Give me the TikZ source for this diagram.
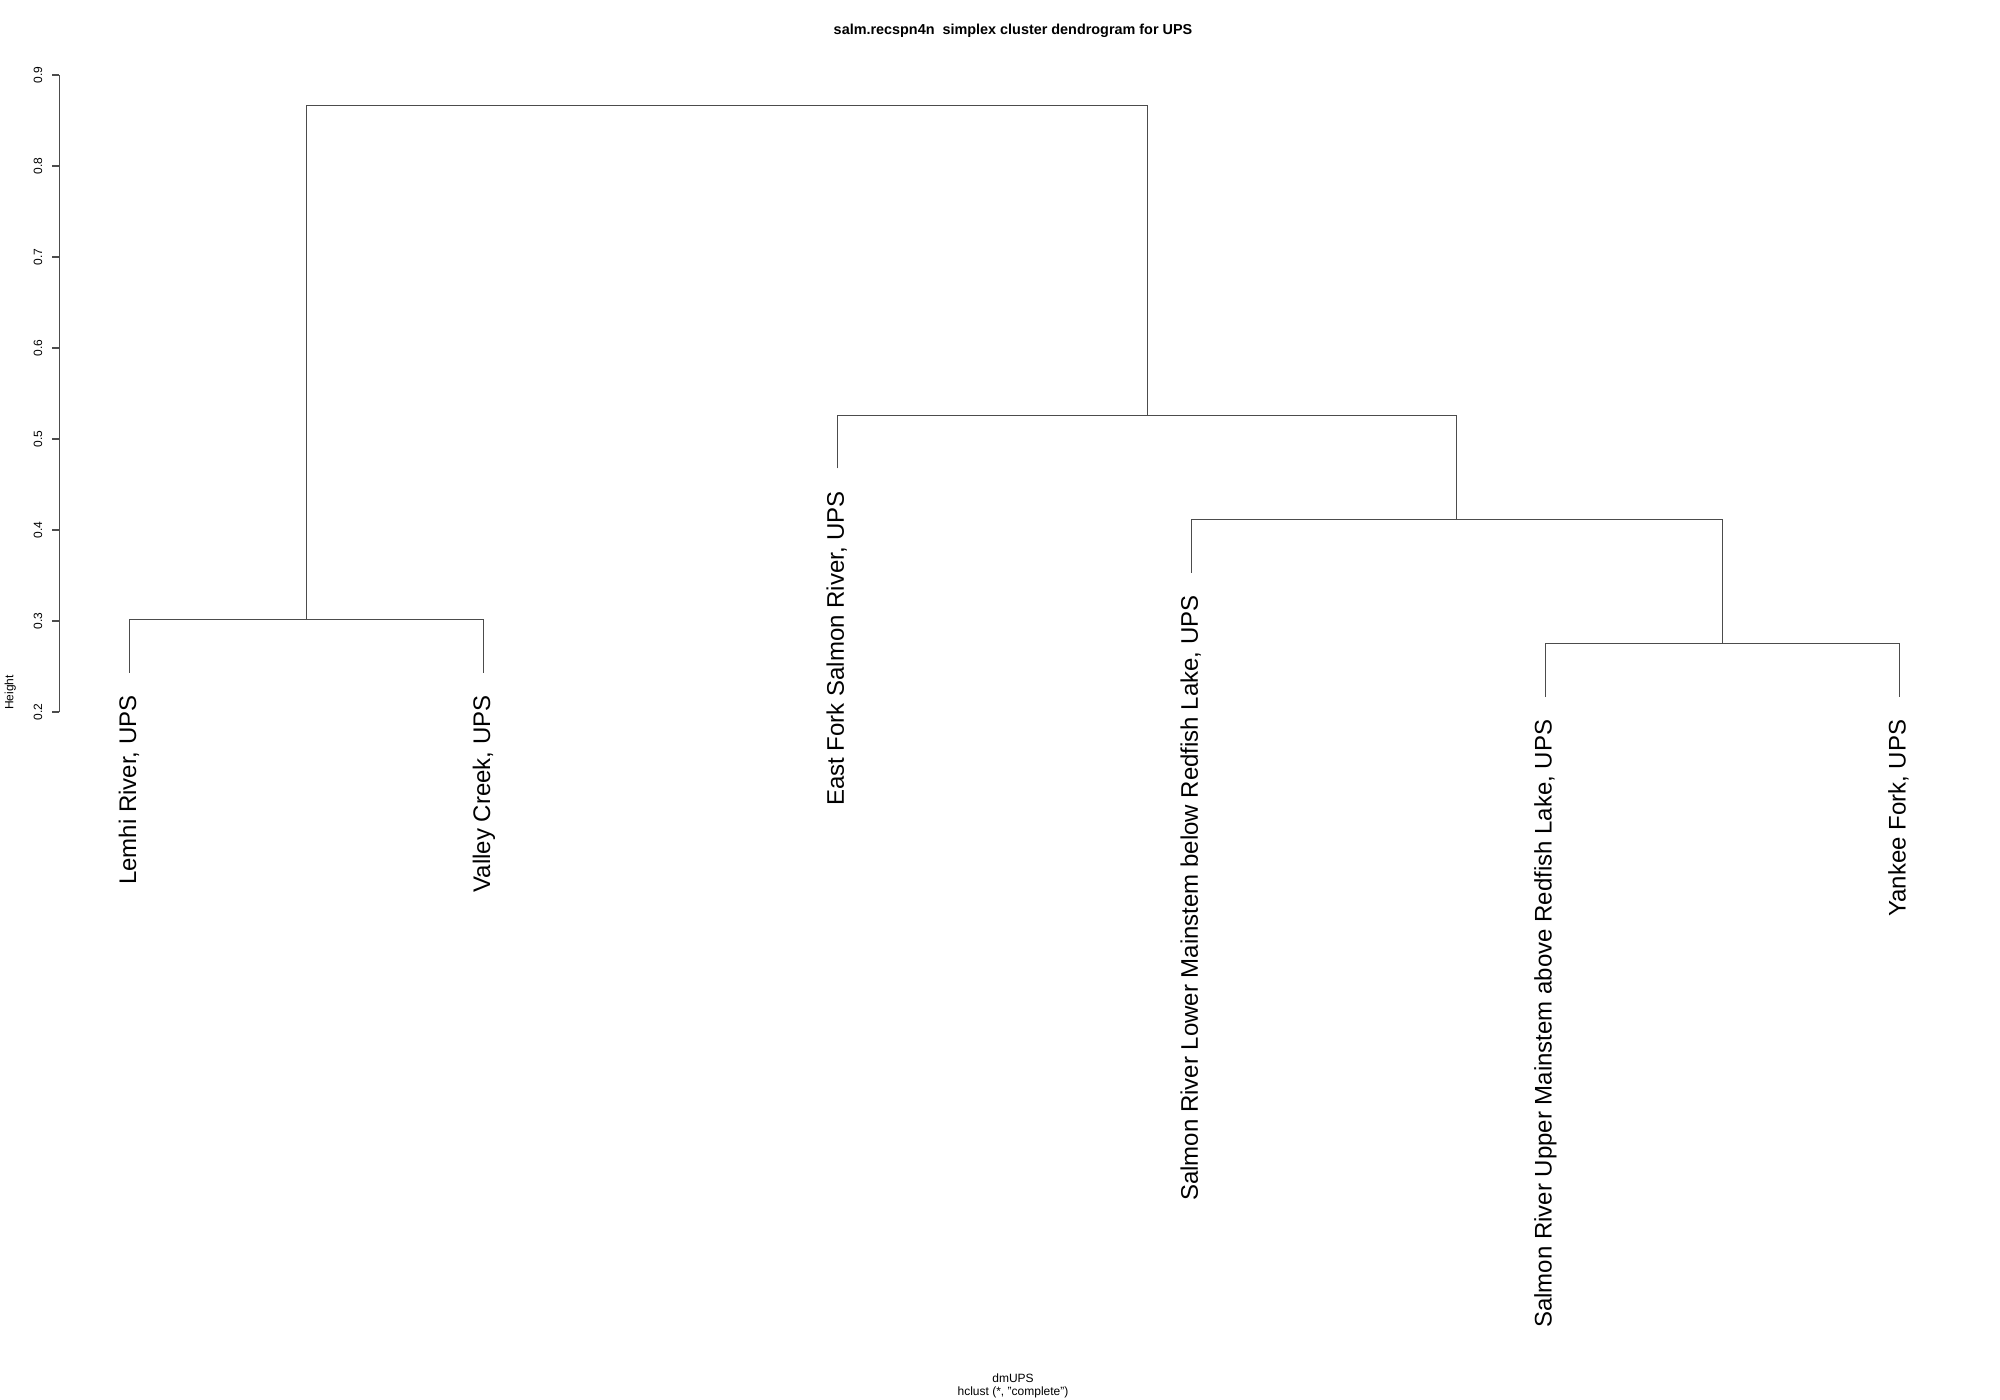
\documentclass[tikz,border=0pt]{standalone}
\usepackage{fontspec}
\setmainfont{Liberation Sans}
\begin{document}
\begin{tikzpicture}[x=1bp,y=-1bp,
  tree/.style={draw=black!70, line width=1.1bp},
  axisline/.style={draw=black!70, line width=1.1bp},
  leaflab/.style={rotate=90, anchor=east, inner sep=0pt,
    font=\fontsize{24bp}{28bp}\selectfont, text height=17.2bp, text depth=0pt},
  ticklab/.style={rotate=90, anchor=center, inner sep=0pt,
    font=\fontsize{12bp}{14bp}\selectfont, text height=8.6bp, text depth=0pt},
  smalltext/.style={inner sep=0pt, anchor=base, font=\fontsize{12bp}{14bp}\selectfont},
  titletext/.style={inner sep=0pt, anchor=base, font=\fontsize{14.4bp}{17bp}\selectfont\bfseries}]
\fill[white] (0,0) rectangle (2000,1400);
\useasboundingbox (0,0) rectangle (2000,1400);

% title and axis captions
\node[titletext] (title) at (1013,34.5) {salm.recspn4n\ \ simplex cluster dendrogram for UPS};
\node[smalltext] (xlab) at (1013,1382) {dmUPS};
\node[smalltext] (sub) at (1013,1395.5) {hclust (*, "complete")};
\node[ticklab] (ylab) at (9,692.5) {Height};

% height axis: 0.2 at y=712, 0.1 per 91 units
\coordinate (ax0) at (59.3,712);
\coordinate (ax1) at (59.3,75);
\draw[axisline] (ax0) -- (ax1);
\foreach \v [count=\i from 0] in {0.2,0.3,0.4,0.5,0.6,0.7,0.8,0.9} {
  \coordinate (tk\i) at (59.3,712-91*\i);
  \draw[axisline] (tk\i) -- ++(-7.5,0);
  \node[ticklab] (tl\i) at (37.8,712-91*\i) {\v};
}

% leaf ends
\coordinate (la) at (129.7,672.6);
\coordinate (lb) at (483.6,672.6);
\coordinate (lc) at (837.5,468.3);
\coordinate (ld) at (1191.4,572.6);
\coordinate (le) at (1545.3,697.0);
\coordinate (lf) at (1899.2,697.0);

% merge points
\coordinate (m1) at (306.65,619.3);
\coordinate (m2) at (1722.25,643.7);
\coordinate (m3) at (1456.8,519.3);
\coordinate (m4) at (1147.15,415.4);
\coordinate (m5) at (726.9,105.7);

% branches
\draw[tree] (la) |- (m1) -| (lb);
\draw[tree] (le) |- (m2) -| (lf);
\draw[tree] (ld) |- (m3) -| (m2);
\draw[tree] (lc) |- (m4) -| (m3);
\draw[tree] (m1) |- (m5) -| (m4);

% leaf labels
\node[leaflab] (na) at (127.5,695.1) {Lemhi River, UPS};
\node[leaflab] (nb) at (481.4,695.1) {Valley Creek, UPS};
\node[leaflab] (nc) at (835.3,490.8) {East Fork Salmon River, UPS};
\node[leaflab] (nd) at (1189.2,595.1) {Salmon River Lower Mainstem below Redfish Lake, UPS};
\node[leaflab] (ne) at (1543.1,719.5) {Salmon River Upper Mainstem above Redfish Lake, UPS};
\node[leaflab] (nf) at (1897.0,719.5) {Yankee Fork, UPS};
\end{tikzpicture}
\end{document}
